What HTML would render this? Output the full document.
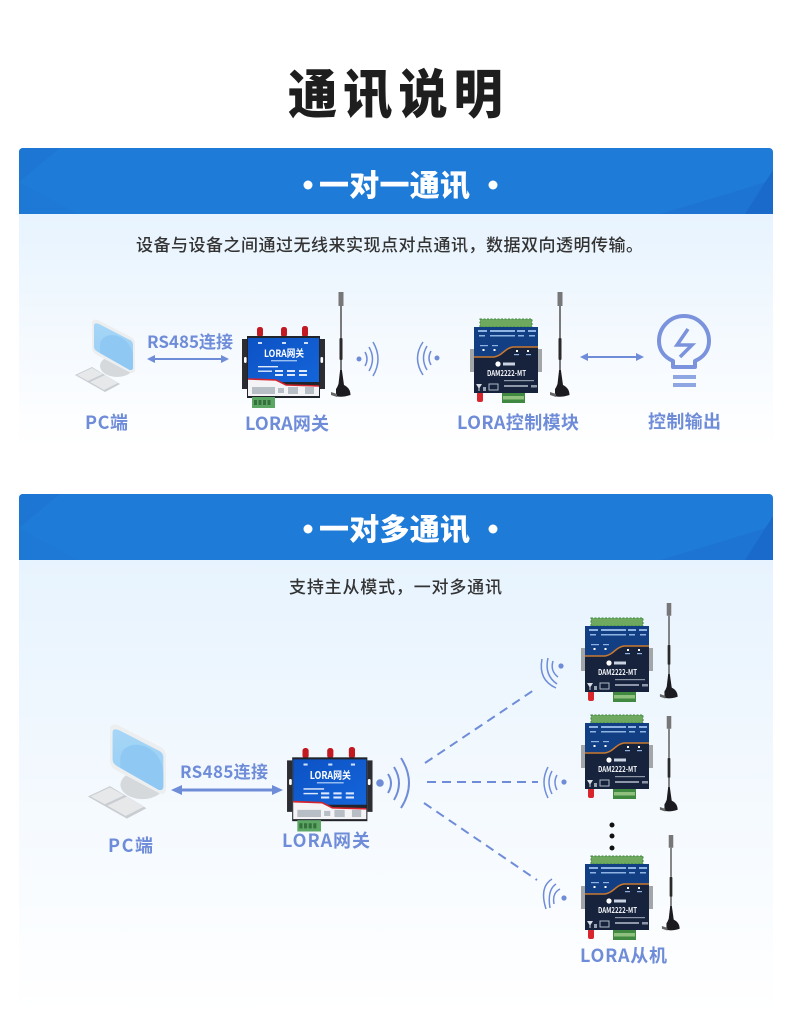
<!DOCTYPE html>
<html><head><meta charset="utf-8"><style>
html,body{margin:0;padding:0;background:#fff}
svg{display:block}
text{font-family:"Noto Sans CJK SC","Liberation Sans",sans-serif}
.lb{fill:#6f8cd8;font-size:18px;font-weight:700}
.sub{fill:#333;font-size:17px;font-weight:500}
.hd{fill:#fff;font-size:30px;font-weight:900}
</style></head><body>
<svg width="790" height="1013" viewBox="0 0 790 1013" xmlns="http://www.w3.org/2000/svg">
<defs>
<linearGradient id="g1" x1="0" y1="0" x2="0" y2="1"><stop offset="0" stop-color="#e7f3fe"/><stop offset="1" stop-color="#ffffff"/></linearGradient>
<linearGradient id="scr" x1="0" y1="0" x2="0" y2="1"><stop offset="0" stop-color="#a6d6f7"/><stop offset="1" stop-color="#96cdf4"/></linearGradient>
<linearGradient id="gw" x1="0" y1="0" x2="1" y2="1"><stop offset="0" stop-color="#0c52c4"/><stop offset="1" stop-color="#1465da"/></linearGradient>

<g id="ant">
 <rect x="-2.500" y="0" width="5" height="14" fill="#777"/>
 <rect x="-.7" y="14" width="1.400" height="32" fill="#444"/>
 <rect x="-1.500" y="46" width="3" height="22" rx="1" fill="#2a2a2a"/>
 <rect x="-.7" y="68" width="1.400" height="12" fill="#444"/>
 <path d="M-.9 78L.9 78L3 93C7 95 9.500 98 9.500 103Q0 106 -5 104L-5 97C-3.500 95 -3 93 -2.500 92Z" fill="#1c1c20"/>
 <path d="M-10 100L-4 102L-4 105L-10 103Z" fill="#666"/>
</g>

<g id="gateway">
 <!-- origin at page 241,325 -->
 <g fill="#c21a20"><rect x="16" y="2" width="6" height="10" rx="2.500"/><rect x="40" y="2" width="6" height="10" rx="2.500"/><rect x="61" y="1" width="6" height="11" rx="2.500"/></g>
 <path d="M1 14H6V64H1ZM79 14H84V64H79Z" fill="#2c2d33"/>
 <rect x="3" y="32" width="2.600" height="6" rx="1.200" fill="#fff"/><rect x="79.500" y="32" width="2.600" height="6" rx="1.200" fill="#fff"/>
 <rect x="6" y="11" width="73" height="62" fill="#22242c"/>
 <rect x="7" y="13" width="71" height="44" fill="url(#gw)"/>
 <path d="M7 54L35 55L45 60L78 61L78 71L7 71Z" fill="#f4f4f6"/>
 <path d="M7 54L35 55L45 60L78 61" fill="none" stroke="#d3232c" stroke-width="1.600"/>
 <text x="23" y="32" fill="#fff" font-size="10" font-weight="700" textLength="40" lengthAdjust="spacingAndGlyphs">LORA网关</text>
 <rect x="30" y="35" width="26" height="1.400" fill="#9cc0f2"/>
 <g fill="#dfeaff"><rect x="17" y="41" width="20" height="1.400"/><rect x="17" y="45.500" width="14" height="1.400"/><rect x="34" y="45" width="8" height="2"/><rect x="46" y="45" width="8" height="2"/><rect x="58" y="45" width="8" height="2"/><rect x="34" y="49" width="8" height="2"/><rect x="46" y="49" width="8" height="2"/><rect x="58" y="49" width="8" height="2"/></g>
 <g fill="#cfe0fb"><rect x="17" y="17" width="4" height="2"/><rect x="41" y="17" width="4" height="2"/><rect x="63" y="17" width="4" height="2"/></g>
 <g fill="#b8bec6"><rect x="11" y="62" width="23" height="7"/><rect x="37" y="63" width="6" height="5"/><rect x="47" y="62" width="10" height="7"/><rect x="64" y="62" width="9" height="7"/></g>
 <rect x="11" y="72" width="23" height="11" fill="#5da765"/>
 <g fill="#35703d"><rect x="13" y="75" width="3" height="5"/><rect x="17.500" y="75" width="3" height="5"/><rect x="22" y="75" width="3" height="5"/><rect x="26.500" y="75" width="3" height="5"/></g>
</g>

<g id="module">
 <!-- page coords of first module -->
 <rect x="480" y="319" width="52" height="8" fill="#6fa85f"/>
 <rect x="480" y="319" width="52" height="8" fill="none" stroke="#3f8740" stroke-width="1" stroke-dasharray="2 1.500"/>
 <path d="M470 349H475V372H470Z" fill="#a3a6a8"/><path d="M537 349H542V372H537Z" fill="#a3a6a8"/>
 <rect x="502" y="393" width="23" height="10" fill="#3f8a40"/>
 <rect x="503" y="396" width="21" height="3.500" fill="#8fc07e"/>
 <rect x="477" y="392" width="6" height="10" rx="2" fill="#d9262c"/>
 <rect x="474" y="327" width="64" height="66" fill="#17233c"/>
 <path d="M474 327H538V347H513C505 348 502 356 494 357H474Z" fill="#123f84"/>
 <path d="M474 357H494C502 356 505 348 513 347H538" fill="none" stroke="#c9792f" stroke-width="1.500"/>
 <g fill="#8fb4e4"><rect x="478" y="330" width="9" height="2"/><rect x="490" y="330" width="25" height="2"/><rect x="517" y="330" width="8" height="2"/><rect x="528" y="330" width="8" height="2"/><rect x="479" y="335" width="6" height="1.500"/><rect x="490" y="335" width="25" height="1.500"/><rect x="518" y="335" width="6" height="1.500"/><rect x="529" y="335" width="6" height="1.500"/><rect x="480" y="345" width="8" height="1.200"/><rect x="492" y="345" width="6" height="1.200"/><rect x="514" y="354" width="5" height="1.200"/><rect x="526" y="354" width="5" height="1.200"/></g>
 <g fill="#fff"><rect x="482.500" y="349" width="2" height="2"/><rect x="493.500" y="349" width="2" height="2"/><rect x="516" y="350" width="2" height="2"/><rect x="527" y="350" width="2" height="2"/></g>
 <circle cx="498" cy="364" r="2.600" fill="#fff"/><rect x="503" y="362.500" width="12" height="3" fill="#c9d2e0"/>
 <text x="487" y="376" fill="#f2f4f8" font-size="8" font-weight="700" textLength="39" lengthAdjust="spacingAndGlyphs">DAM2222-MT</text>
 <g fill="#8d97a8"><rect x="504" y="380" width="30" height="1.200"/><rect x="504" y="385" width="24" height="2"/><rect x="531" y="385" width="6" height="2.500"/></g>
 <path d="M476 384H482L479.500 388V391H478.500V388Z" fill="#d6dbe4"/>
 <rect x="489" y="384" width="9" height="6" fill="none" stroke="#aeb8c8" stroke-width="1"/>
 <rect x="483" y="387" width="3" height="4" fill="#9aa3b2"/>
</g>

<g id="pc">
 <!-- first PC coords -->
 <path d="M75 375L92 367L120 384L105 392Z" fill="#c9cdd1"/>
 <path d="M77 375L92 368L103 374L88 381ZM90 382L105 375L118 383L104 390Z" fill="#e6e8ea"/>
 <ellipse cx="117" cy="366" rx="17" ry="11" fill="#d6d9dc"/>
 <path d="M92 323C92 320 95 319 98 320L131 337C134 339 135 341 135 344L135 369C135 373 132 374 129 372L97 355C94 353 92 351 92 347Z" fill="#eceef0"/>
 <path d="M94 326C94 323 96 323 99 324L130 340C132 341 133 343 133 345L133 367C133 370 131 371 128 369L98 352C95 350 94 349 94 346Z" fill="url(#scr)"/>
 <path d="M100 346C100 336 112 332 122 338C129 342 133 350 133 358L133 367C133 370 131 371 128 369L100 353Z" fill="#8ec8f3"/>
</g>
</defs>

<rect width="790" height="1013" fill="#fff"/>
<text transform="translate(288 113) scale(.93 1)" font-size="53" font-weight="900" fill="#1e1e1e" textLength="231" lengthAdjust="spacing">通讯说明</text>

<!-- panel 1 -->
<rect x="19" y="214" width="754" height="232" fill="url(#g1)"/>
<path d="M19 152a4 4 0 0 1 4-4H769a4 4 0 0 1 4 4V214H19Z" fill="#1f7bd8"/>
<path d="M19 182L60 148H23a4 4 0 0 0-4 4Z" fill="#1d75d4"/><path d="M19 182L78 214H19Z" fill="#1e78d6"/>
<path d="M660 214L773 180V214Z" fill="#1d74d3"/><path d="M745 214L773 170V214Z" fill="#1a6acb"/>
<circle cx="308" cy="185" r="4.500" fill="#fff"/><circle cx="493" cy="185" r="4.500" fill="#fff"/>
<text x="319" y="196" class="hd" textLength="151" lengthAdjust="spacing">一对一通讯</text>
<text x="136" y="251" class="sub" textLength="507" lengthAdjust="spacing">设备与设备之间通过无线来实现点对点通讯，数据双向透明传输。</text>

<use href="#pc"/>
<text x="147" y="348" class="lb" textLength="86" lengthAdjust="spacing" style="font-size:17px">RS485连接</text>
<path d="M152 358H224V360H152Z" fill="#6f8cd8"/><path d="M147 359L155 355V363ZM229 359L221 355V363Z" fill="#6f8cd8"/>
<use href="#gateway" x="241" y="325"/>
<use href="#ant" x="341" y="292"/>
<circle cx="359" cy="359" r="2.500" fill="#6f8cd8"/>
<g fill="none" stroke="#6f8cd8" stroke-width="1.500"><path d="M365 352Q369 359 365 366"/><path d="M369 347Q376 359 369 371"/><path d="M373 342Q383 359 373 376"/></g>
<circle cx="437" cy="358" r="2.500" fill="#6f8cd8"/>
<g fill="none" stroke="#6f8cd8" stroke-width="1.500"><path d="M431 351Q427 358 431 365"/><path d="M427 346Q420 358 427 370"/><path d="M423 342Q412 358 423 375"/></g>
<use href="#module"/>
<use href="#ant" x="560" y="292"/>
<path d="M585 356H639V358H585Z" fill="#6f8cd8"/><path d="M580 357L588 353V361ZM644 357L636 353V361Z" fill="#6f8cd8"/>
<path d="M673 367L673 361C664 357 659 350 659 341A25 25 0 0 1 709 341C709 350 704 357 695 361L695 367Z" fill="none" stroke="#7a93dc" stroke-width="4" stroke-linejoin="round"/>
<path d="M688 329L677 345H692L680 357" fill="none" stroke="#7a93dc" stroke-width="3.500" stroke-linejoin="miter"/>
<path d="M673 375H696V379H673ZM673 383H696V387H673Z" fill="#8ea6e2"/>
<text x="85" y="429" class="lb" textLength="43" lengthAdjust="spacing">PC端</text>
<text x="245" y="430" class="lb" textLength="84" lengthAdjust="spacing">LORA网关</text>
<text x="457" y="429" class="lb" textLength="122" lengthAdjust="spacing">LORA控制模块</text>
<text x="648" y="428" class="lb" textLength="73" lengthAdjust="spacing">控制输出</text>

<!-- panel 2 -->
<rect x="19" y="560" width="754" height="453" fill="url(#g1)"/>
<path d="M19 498a4 4 0 0 1 4-4H769a4 4 0 0 1 4 4V560H19Z" fill="#1f7bd8"/>
<path d="M19 528L60 494H23a4 4 0 0 0-4 4Z" fill="#1d75d4"/><path d="M19 528L78 560H19Z" fill="#1e78d6"/>
<path d="M660 560L773 526V560Z" fill="#1d74d3"/><path d="M745 560L773 516V560Z" fill="#1a6acb"/>
<circle cx="308" cy="529" r="4.500" fill="#fff"/><circle cx="493" cy="529" r="4.500" fill="#fff"/>
<text x="319" y="540" class="hd" textLength="151" lengthAdjust="spacing">一对多通讯</text>
<text x="289" y="593" class="sub" textLength="213" lengthAdjust="spacing">支持主从模式，一对多通讯</text>

<use href="#pc" transform="translate(-9.600 309) scale(1.300)"/>
<text x="180" y="778" class="lb" textLength="88" lengthAdjust="spacing" style="font-size:17px">RS485连接</text>
<path d="M178 788.500H276V791.500H178Z" fill="#6f8cd8"/><path d="M171 790L182 785V795ZM283 790L272 785V795Z" fill="#6f8cd8"/>
<use href="#gateway" transform="translate(286 746) scale(1.030)"/>
<circle cx="380" cy="783" r="3.800" fill="#6f8cd8"/>
<g fill="none" stroke="#6f8cd8" stroke-width="2"><path d="M388 774Q394 783 388 793"/><path d="M394 767Q404 783 394 800"/><path d="M401 758Q417 783 401 808"/></g>
<g stroke="#6f8cd8" stroke-width="2" stroke-dasharray="9 6" fill="none"><path d="M425 763L537 688"/><path d="M427 782L538 782"/><path d="M424 803L537 880"/></g>

<use href="#module" transform="translate(111 299)"/><use href="#ant" transform="translate(669 603) scale(.91)"/>
<use href="#module" transform="translate(111 396)"/><use href="#ant" transform="translate(669 716) scale(.91)"/>
<use href="#module" transform="translate(111 537)"/><use href="#ant" transform="translate(671 835) scale(.91)"/>

<circle cx="561" cy="666" r="2.600" fill="#6f8cd8"/>
<g fill="none" stroke="#6f8cd8" stroke-width="1.500"><path d="M553 661Q550 671 558 677"/><path d="M548 658Q544 675 557 684"/><path d="M542 659Q538 680 556 688"/></g>
<circle cx="564" cy="782" r="2.600" fill="#6f8cd8"/>
<g fill="none" stroke="#6f8cd8" stroke-width="1.500"><path d="M557 775Q553 782 557 790"/><path d="M552 771Q546 782 552 794"/><path d="M548 767Q540 782 548 798"/></g>
<circle cx="564" cy="898" r="2.600" fill="#6f8cd8"/>
<g fill="none" stroke="#6f8cd8" stroke-width="1.500"><path d="M560 889Q552 893 554 904"/><path d="M556 884Q547 890 550 908"/><path d="M552 879Q539 887 546 909"/></g>

<circle cx="612" cy="825" r="2.500" fill="#111"/><circle cx="612" cy="836" r="2.500" fill="#111"/><circle cx="612" cy="848" r="2.500" fill="#111"/>

<text x="108" y="852" class="lb" textLength="45" lengthAdjust="spacing">PC端</text>
<text x="282" y="847" class="lb" textLength="88" lengthAdjust="spacing">LORA网关</text>
<text x="580" y="962" class="lb" textLength="87" lengthAdjust="spacing">LORA从机</text>
</svg>
</body></html>
